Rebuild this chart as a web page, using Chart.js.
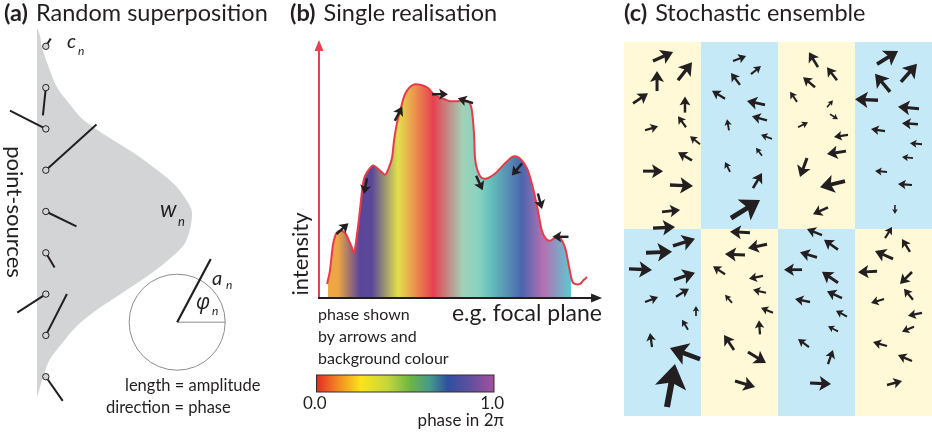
<!DOCTYPE html>
<html>
<head>
<meta charset="utf-8">
<script src="https://cdn.jsdelivr.net/npm/chart.js@4.4.1/dist/chart.umd.min.js"></script>
<style>
  html, body { margin: 0; padding: 0; background: #ffffff; }
  #fig { position: relative; width: 932px; height: 433px; overflow: hidden; background: #ffffff; }
  #fig canvas { position: absolute; top: 0; }
</style>
</head>
<body>
<div id="fig">
  <canvas id="panelA" width="290" height="433" style="left:0px"></canvas>
  <canvas id="panelB" width="325" height="433" style="left:290px"></canvas>
  <canvas id="panelC" width="317" height="433" style="left:615px"></canvas>
</div>
<script>
// ---------- (a) random superposition of point sources ----------
const sourcePos      = [1, 2, 3, 4, 5, 6, 7, 8, 9];
const sourceAmp      = [0.06, 0.18, 0.26, 0.44, 0.22, 0.11, 0.22, 0.30, 0.19];
const sourcePhaseDeg = [58, 264, 153, 42, 334, 301, 213, 63, 305];
const envelopePos    = [0.55, 0.75, 1.0, 1.55, 2.0, 2.35, 2.75, 3.15, 3.55, 3.95, 4.35, 4.75, 5.0, 5.4, 5.8, 6.2, 6.6, 7.0, 7.4, 7.8, 8.2, 8.6, 9.0, 9.5];
const envelopeWidth  = [0, 0.02, 0.03, 0.08, 0.13, 0.2, 0.29, 0.44, 0.61, 0.76, 0.89, 0.97, 1.0, 0.99, 0.95, 0.84, 0.7, 0.54, 0.38, 0.25, 0.16, 0.08, 0.04, 0];

// ---------- (b) one realisation along the focal plane ----------
const focalX = [0.029, 0.039, 0.050, 0.061, 0.075, 0.093, 0.107, 0.118, 0.125, 0.136, 0.146, 0.154, 0.161, 0.171, 0.193, 0.218, 0.236, 0.25, 0.261, 0.268, 0.279, 0.293, 0.307, 0.325, 0.343, 0.368, 0.389, 0.414, 0.439, 0.468, 0.511, 0.536, 0.546, 0.554, 0.557, 0.564, 0.579, 0.6, 0.629, 0.657, 0.675, 0.693, 0.718, 0.743, 0.764, 0.782, 0.796, 0.811, 0.825, 0.843, 0.861, 0.879, 0.889, 0.904, 0.914, 0.932, 0.946, 0.957];
const intensity = [0.055, 0.106, 0.208, 0.251, 0.263, 0.255, 0.224, 0.196, 0.176, 0.251, 0.341, 0.420, 0.467, 0.490, 0.518, 0.498, 0.482, 0.510, 0.549, 0.616, 0.686, 0.745, 0.796, 0.824, 0.835, 0.831, 0.820, 0.792, 0.780, 0.769, 0.769, 0.765, 0.733, 0.635, 0.549, 0.506, 0.471, 0.467, 0.486, 0.518, 0.537, 0.553, 0.545, 0.506, 0.431, 0.341, 0.263, 0.231, 0.224, 0.235, 0.235, 0.196, 0.145, 0.067, 0.055, 0.055, 0.071, 0.082];
const phaseSampleX   = [0.032, 0.068, 0.146, 0.189, 0.282, 0.332, 0.407, 0.514, 0.568, 0.611, 0.725, 0.8, 0.9];
const phaseSampleVal = [0.13, 0.12, 0.85, 0.84, 0.22, 0.10, 0.0, 0.45, 0.47, 0.55, 0.72, 0.92, 0.6];
const phasorBX     = [0.166, 0.284, 0.432, 0.523, 0.573, 0.707, 0.789, 0.084, 0.8625];
const phasorBY     = [0.437, 0.72, 0.796, 0.771, 0.449, 0.502, 0.378, 0.271, 0.239];
const phasorBPhase = [259, 62, 0, 162, 294, 230, 285, 42, 180];
const colourbarTicks = ['0.0', '1.0'];

// ---------- (c) stochastic ensemble: quiver field ----------
const fieldX = [
  3.77, 4.29, 7.01, 1.17, 7.92, 8.05, 2.73, 9.87, 8.83, 2.47, 5.97, 4.94,
  14.16, 16.49, 15.06, 13.12, 18.31, 18.57, 13.64, 19.22, 17.92, 13.77, 16.75, 13.9,
  25.19, 27.66, 24.81, 22.47, 26.36, 26.75, 22.6, 29.09, 28.83, 23.77, 28.7, 26.49,
  32.86, 34.55, 35.97, 32.99, 38.31, 38.18, 33.9, 38.7, 37.53, 34.16, 37.4, 35.19,
  3.77, 2.86, 6.36, 0.65, 6.49, 6.75, 2.73, 9.35, 8.31, 3.64, 9.87, 5.58,
  16.36, 18.57, 15.71, 13.12, 18.05, 18.44, 14.03, 19.35, 17.66, 14.29, 16.1, 14.42,
  25.71, 27.79, 25.06, 23.12, 27.79, 28.31, 24.16, 28.96, 27.79, 24.03, 26.49, 24.16,
  33.9, 34.94, 37.14, 32.86, 37.4, 37.53, 33.77, 38.7, 37.66, 34.16, 37.4, 34.16
];
const fieldY = [
  46.1, 42.2, 43.6, 40.6, 39.4, 37.5, 37.1, 35.3, 33.2, 31.8, 30.0, 26.5,
  46.1, 44.4, 43.0, 41.2, 40.4, 38.4, 37.1, 36.0, 33.8, 31.7, 29.6, 25.7,
  45.3, 43.6, 42.7, 40.8, 40.1, 39.2, 37.5, 36.5, 34.4, 33.5, 30.5, 27.1,
  45.7, 42.1, 43.4, 41.0, 39.9, 37.9, 37.0, 35.3, 33.5, 31.7, 30.0, 27.4,
  24.4, 21.2, 22.1, 19.1, 17.7, 15.5, 14.8, 13.0, 11.2, 8.96, 7.4, 1.17,
  23.8, 22.3, 20.9, 18.4, 18.2, 16.0, 14.7, 13.4, 10.6, 8.57, 8.31, 4.55,
  23.5, 21.6, 20.6, 19.0, 17.3, 15.3, 14.8, 12.9, 11.0, 8.96, 6.75, 4.29,
  23.1, 20.4, 21.3, 18.8, 18.7, 15.1, 15.2, 13.4, 11.6, 9.09, 7.14, 4.03
];
const fieldU = [
  2.6, 0, 1.82, 1.95, 0, -1.04, 1.69, -1.3, -1.82, 2.6, 2.99, 2.34,
  1.69, 1.3, -1.17, -1.69, -2.34, -1.95, -0.26, -1.43, -0.78, -0.65, 1.17, 3.77,
  -1.17, -1.3, -1.56, -0.91, 0.78, 1.04, 1.3, -1.82, -2.47, -0.91, -3.25, -1.95,
  2.73, -1.95, 2.08, -2.99, -2.73, -2.08, -1.82, -1.56, -1.43, -1.56, -1.82, 0,
  2.86, 3.38, 2.86, 2.99, 2.73, 1.69, 1.69, 0, -0.78, -0.26, -3.9, 1.04,
  -2.6, -2.47, -2.6, -1.56, -1.82, -1.69, -0.91, -1.56, -0.13, -1.3, 2.34, 2.6,
  -1.95, -1.82, -2.21, -2.34, -2.08, -1.95, -1.95, -1.43, -1.3, -1.43, 0.65, 2.73,
  0.91, -2.34, -1.04, -2.47, -1.56, -1.17, -1.69, -1.82, -1.56, -1.82, -1.82, 1.95
];
const fieldV = [
  1.17, 2.6, 2.34, 1.3, 2.08, 1.43, 0.52, 1.04, 1.04, 0, -0.13, 0.26,
  0.65, 1.04, 1.56, 1.04, 0.52, 0.52, 1.43, 0.52, 1.04, 1.3, 1.95, 2.34,
  1.95, 1.69, 1.3, 1.3, 0.91, -0.65, 0.65, -0.26, -0.39, -2.47, -0.78, -0.91,
  1.69, 2.34, 2.34, 0.13, 0.26, 0.13, 0.26, 0.13, 0.13, 0.13, 0.13, -1.17,
  0.13, 0.13, 0.91, -0.13, 0.91, 1.04, 0.65, 1.3, 1.3, 1.82, 1.43, 5.58,
  0.13, -0.52, 0.13, 1.04, -0.39, 0.39, 1.04, 0.65, 1.82, 1.95, -1.43, -0.78,
  0.78, 1.3, 0.65, 0, 1.43, 0.91, 0.39, 0.78, 0.65, 1.04, 1.82, -0.13,
  1.43, 1.04, 1.69, -0.13, -1.56, 1.43, -0.52, -0.39, -0.65, 0.52, 0.78, 0.52
];
const columnEdges = [0, 10, 20, 30, 40];
const rowEdges    = [48.57, 24.29, 0];
const cellTone    = [[0, 1, 0, 1], [1, 0, 1, 0]];

// ---------- styling ----------
const INK = '#231f20';
const AXIS_RED = '#e8424f';
const CURVE_RED = '#e83a4a';
const ENVELOPE_GREY = '#d3d4d6';
const CELL_COLOURS = ['#fff9d7', '#c6e9f8'];
const FONT = 'Lato, "Open Sans", "DejaVu Sans", sans-serif';
const TITLE_PX = 23.5;
const fillPalette = [
  [0.00, [232, 64, 78]], [0.10, [235, 160, 78]], [0.13, [238, 168, 66]], [0.22, [224, 224, 74]],
  [0.45, [160, 210, 184]], [0.47, [138, 210, 192]], [0.55, [100, 194, 188]], [0.60, [94, 200, 210]],
  [0.72, [74, 102, 174]], [0.85, [90, 70, 152]], [0.92, [180, 112, 176]], [1.00, [232, 64, 78]]
];
const colourbarStops = [
  [0, '#e42a24'], [0.1, '#ef7a22'], [0.25, '#fbe41a'], [0.4, '#c4d63c'], [0.53, '#6cb646'],
  [0.64, '#44998c'], [0.74, '#2f4f9f'], [0.86, '#5f4f9f'], [1, '#a2509c']
];
const phasorKey = { offset: 0.905, pos: 7.68, radius: 0.31, amp: 0.462, phaseDeg: 62 };

function phaseColour(p) {
  for (let i = 1; i < fillPalette.length; i++) {
    const [p1, c1] = fillPalette[i];
    const [p0, c0] = fillPalette[i - 1];
    if (p <= p1) {
      const t = (p - p0) / Math.max(1e-9, p1 - p0);
      const c = c0.map((v, k) => Math.round(v + (c1[k] - v) * t));
      return `rgb(${c[0]},${c[1]},${c[2]})`;
    }
  }
  const c = fillPalette[fillPalette.length - 1][1];
  return `rgb(${c[0]},${c[1]},${c[2]})`;
}

function text(ctx, str, x, y, font, opts = {}) {
  ctx.save();
  ctx.font = font;
  ctx.fillStyle = opts.color || INK;
  ctx.textAlign = opts.align || 'left';
  ctx.textBaseline = opts.baseline || 'alphabetic';
  if (opts.rotate) {
    ctx.translate(x, y);
    ctx.rotate(opts.rotate);
    ctx.fillText(str, 0, 0);
  } else {
    ctx.fillText(str, x, y);
  }
  ctx.restore();
}

function titled(ctx, tag, title, x, y) {
  const boldFont = `bold ${TITLE_PX}px ${FONT}`;
  ctx.save();
  ctx.font = boldFont;
  const w = ctx.measureText(tag).width;
  ctx.restore();
  text(ctx, tag, x, y, boldFont);
  text(ctx, title, x + w + 8, y, `${TITLE_PX}px ${FONT}`);
}

function arrow(ctx, x0, y0, x1, y1, colour) {
  const dx = x1 - x0, dy = y1 - y0;
  const L = Math.hypot(dx, dy);
  if (L < 0.5) return;
  const ux = dx / L, uy = dy / L, nx = -uy, ny = ux;
  const hw = Math.max(5, 0.75 * L - 1);
  const hl = Math.max(4, 0.55 * L);
  const sw = Math.max(1.4, 0.13 * L + 0.4);
  const bx = x1 - ux * hl, by = y1 - uy * hl;
  ctx.save();
  ctx.strokeStyle = colour;
  ctx.fillStyle = colour;
  ctx.lineWidth = sw;
  ctx.lineCap = 'butt';
  ctx.beginPath();
  ctx.moveTo(x0, y0);
  ctx.lineTo(bx + ux * hl * 0.3, by + uy * hl * 0.3);
  ctx.stroke();
  ctx.beginPath();
  ctx.moveTo(x1, y1);
  ctx.lineTo(bx + nx * hw / 2, by + ny * hw / 2);
  ctx.lineTo(bx + ux * hl * 0.22, by + uy * hl * 0.22);
  ctx.lineTo(bx - nx * hw / 2, by - ny * hw / 2);
  ctx.closePath();
  ctx.fill();
  ctx.restore();
}

const hidden = { display: false };
const quiet = { legend: { display: false }, tooltip: { enabled: false }, title: { display: false } };

// ---------- panel (a) ----------
const SOURCE_BASE = 0.057;
const panelAPlugin = {
  id: 'panelA',
  afterDatasetDraw(chart, args) {
    if (args.index !== 0) return;
    const { ctx, scales: { x, y } } = chart;
    const ppu = x.getPixelForValue(1) - x.getPixelForValue(0);
    ctx.save();
    ctx.strokeStyle = INK;
    ctx.lineWidth = 2;
    sourcePos.forEach((p, i) => {
      const x0 = x.getPixelForValue(SOURCE_BASE), y0 = y.getPixelForValue(p);
      const a = sourcePhaseDeg[i] * Math.PI / 180, L = sourceAmp[i] * ppu;
      ctx.beginPath();
      ctx.moveTo(x0, y0);
      ctx.lineTo(x0 + L * Math.cos(a), y0 - L * Math.sin(a));
      ctx.stroke();
    });
    ctx.restore();
  },
  afterDraw(chart) {
    const { ctx, scales: { x, y } } = chart;
    const ppu = x.getPixelForValue(1) - x.getPixelForValue(0);
    titled(ctx, '(a)', 'Random superposition', 4, 21);

    // phasor key: circle, reference direction and one phasor
    const cx = x.getPixelForValue(phasorKey.offset), cy = y.getPixelForValue(phasorKey.pos);
    const r = phasorKey.radius * ppu;
    ctx.save();
    ctx.strokeStyle = '#8c8c8c';
    ctx.lineWidth = 1;
    ctx.beginPath(); ctx.arc(cx, cy, r, 0, Math.PI * 2); ctx.stroke();
    ctx.beginPath(); ctx.moveTo(cx, cy); ctx.lineTo(cx + r, cy); ctx.stroke();
    const a = phasorKey.phaseDeg * Math.PI / 180, L = phasorKey.amp * ppu;
    ctx.strokeStyle = INK; ctx.lineWidth = 2.2;
    ctx.beginPath(); ctx.moveTo(cx, cy); ctx.lineTo(cx + L * Math.cos(a), cy - L * Math.sin(a)); ctx.stroke();
    ctx.restore();

    text(ctx, 'a', 212, 285, 'italic 20px ' + FONT);
    text(ctx, 'n', 226, 289, 'italic 12px ' + FONT);
    text(ctx, 'φ', 196, 309, 'italic 21px "Open Sans", ' + FONT);
    text(ctx, 'n', 212, 315, 'italic 12px ' + FONT);
    text(ctx, 'c', 67, 48, 'italic 20px ' + FONT);
    text(ctx, 'n', 78, 55, 'italic 12px ' + FONT);
    text(ctx, 'w', 160, 217, 'italic 23px ' + FONT);
    text(ctx, 'n', 178, 226, 'italic 13px ' + FONT);
    text(ctx, 'point-sources', 14, 212, '22px ' + FONT, { rotate: Math.PI / 2, align: 'center', baseline: 'middle' });
    text(ctx, 'length = amplitude', 125, 391, '16.5px ' + FONT);
    text(ctx, 'direction = phase', 106, 413, '16.5px ' + FONT);
  }
};

new Chart(document.getElementById('panelA'), {
  type: 'scatter',
  data: {
    datasets: [
      {
        label: 'envelope',
        data: envelopePos.map((p, i) => ({ x: envelopeWidth[i], y: p })),
        showLine: true, fill: 'shape', tension: 0.3,
        backgroundColor: ENVELOPE_GREY, borderWidth: 0, borderColor: 'rgba(0,0,0,0)',
        pointRadius: 0, order: 2, clip: false
      },
      {
        label: 'sources',
        data: sourcePos.map(p => ({ x: SOURCE_BASE, y: p })),
        showLine: false, pointRadius: 3.2, pointBorderWidth: 1,
        pointBorderColor: INK, pointBackgroundColor: ENVELOPE_GREY,
        order: 1, clip: false
      }
    ]
  },
  options: {
    responsive: false, animation: false, devicePixelRatio: 1,
    layout: { padding: { left: 37, right: 0, top: 2, bottom: 15 } },
    scales: {
      x: { type: 'linear', min: 0, max: 1.6013, ...hidden },
      y: { type: 'linear', min: 0, max: 10, reverse: true, ...hidden }
    },
    plugins: quiet
  },
  plugins: [panelAPlugin]
});

// ---------- panel (b) ----------
const AXIS_END_X = 1.011, AXIS_END_Y = 1.008, PHASOR_LEN = 16;
function phaseFill(context) {
  const chart = context.chart;
  const { ctx, chartArea, scales } = chart;
  if (!chartArea || !scales.x) return 'rgba(0,0,0,0)';
  const first = scales.x.getPixelForValue(phaseSampleX[0]);
  const last = scales.x.getPixelForValue(phaseSampleX[phaseSampleX.length - 1]);
  const g0 = first - 0.5, g1 = last + 0.5, span = g1 - g0;
  const g = ctx.createLinearGradient(g0, 0, g1, 0);
  g.addColorStop(0, 'rgba(255,255,255,0)');
  phaseSampleX.forEach((v, i) => {
    g.addColorStop((scales.x.getPixelForValue(v) - g0) / span, phaseColour(phaseSampleVal[i]));
  });
  g.addColorStop(1, 'rgba(255,255,255,0)');
  return g;
}

const panelBPlugin = {
  id: 'panelB',
  afterDatasetsDraw(chart) {
    const { ctx, scales: { x, y } } = chart;
    const x0 = x.getPixelForValue(0), y0 = y.getPixelForValue(0);
    const yTop = y.getPixelForValue(AXIS_END_Y), xEnd = x.getPixelForValue(AXIS_END_X);
    ctx.save();
    ctx.lineWidth = 2;
    ctx.strokeStyle = AXIS_RED; ctx.fillStyle = AXIS_RED;
    ctx.beginPath(); ctx.moveTo(x0, y0 + 1); ctx.lineTo(x0, yTop + 8); ctx.stroke();
    ctx.beginPath(); ctx.moveTo(x0, yTop); ctx.lineTo(x0 - 4.5, yTop + 11); ctx.lineTo(x0 + 4.5, yTop + 11); ctx.closePath(); ctx.fill();
    ctx.strokeStyle = INK; ctx.fillStyle = INK;
    ctx.beginPath(); ctx.moveTo(x0 - 1, y0); ctx.lineTo(xEnd - 8, y0); ctx.stroke();
    ctx.beginPath(); ctx.moveTo(xEnd, y0); ctx.lineTo(xEnd - 11, y0 - 4.5); ctx.lineTo(xEnd - 11, y0 + 4.5); ctx.closePath(); ctx.fill();
    ctx.restore();

    phasorBX.forEach((v, i) => {
      const px = x.getPixelForValue(v), py = y.getPixelForValue(phasorBY[i]);
      const a = phasorBPhase[i] * Math.PI / 180;
      const hx = Math.cos(a) * PHASOR_LEN / 2, hy = -Math.sin(a) * PHASOR_LEN / 2;
      arrow(ctx, px - hx, py - hy, px + hx, py + hy, INK);
    });
  },
  afterDraw(chart) {
    const { ctx } = chart;
    titled(ctx, '(b)', 'Single realisation', 0, 21);
    text(ctx, 'intensity', 11, 254, '22px ' + FONT, { rotate: -Math.PI / 2, align: 'center', baseline: 'middle' });
    text(ctx, 'e.g. focal plane', 312, 321, '23px ' + FONT, { align: 'right' });
    text(ctx, 'phase shown', 28, 320, '16px ' + FONT);
    text(ctx, 'by arrows and', 28, 342, '16px ' + FONT);
    text(ctx, 'background colour', 28, 364, '16px ' + FONT);

    // phase colour bar
    const bx = 26.5, by = 375, bw = 177.5, bh = 17;
    const g = ctx.createLinearGradient(bx, 0, bx + bw, 0);
    colourbarStops.forEach(([p, c]) => g.addColorStop(p, c));
    ctx.save();
    ctx.fillStyle = g;
    ctx.fillRect(bx, by, bw, bh);
    ctx.strokeStyle = '#3b2b2d'; ctx.lineWidth = 1;
    ctx.strokeRect(bx, by, bw, bh);
    ctx.restore();
    text(ctx, colourbarTicks[0], 13, 409, '17px ' + FONT);
    text(ctx, colourbarTicks[1], 214, 409, '17px ' + FONT, { align: 'right' });
    text(ctx, 'phase in 2π', 214, 426, '17px ' + FONT, { align: 'right' });
  }
};

new Chart(document.getElementById('panelB'), {
  type: 'scatter',
  data: {
    datasets: [{
      label: 'intensity',
      data: focalX.map((v, i) => ({ x: v, y: intensity[i] })),
      showLine: true, fill: 'origin', tension: 0.3,
      borderColor: CURVE_RED, borderWidth: 2, pointRadius: 0,
      backgroundColor: phaseFill, clip: false
    }]
  },
  options: {
    responsive: false, animation: false, devicePixelRatio: 1,
    layout: { padding: { left: 29, right: 16, top: 42, bottom: 135 } },
    scales: {
      x: { type: 'linear', min: 0, max: 1, ...hidden },
      y: { type: 'linear', min: 0, max: 1, ...hidden }
    },
    plugins: quiet
  },
  plugins: [panelBPlugin]
});

// ---------- panel (c) ----------
const panelCPlugin = {
  id: 'panelC',
  beforeDatasetsDraw(chart) {
    const { ctx, scales: { x, y } } = chart;
    cellTone.forEach((row, r) => row.forEach((tone, c) => {
      const l = Math.round(x.getPixelForValue(columnEdges[c]));
      const rr = Math.round(x.getPixelForValue(columnEdges[c + 1]));
      const t = Math.round(y.getPixelForValue(rowEdges[r]));
      const b = Math.round(y.getPixelForValue(rowEdges[r + 1]));
      ctx.fillStyle = CELL_COLOURS[tone];
      ctx.fillRect(l, t, rr - l, b - t);
    }));
  },
  afterDatasetsDraw(chart) {
    const { ctx, scales: { x } } = chart;
    const ppu = x.getPixelForValue(1) - x.getPixelForValue(0);
    const meta = chart.getDatasetMeta(0);
    meta.data.forEach((pt, i) => {
      arrow(ctx, pt.x, pt.y, pt.x + fieldU[i] * ppu, pt.y - fieldV[i] * ppu, INK);
    });
  },
  afterDraw(chart) {
    titled(chart.ctx, '(c)', 'Stochastic ensemble', 9, 21);
  }
};

new Chart(document.getElementById('panelC'), {
  type: 'scatter',
  data: {
    datasets: [{
      label: 'field',
      data: fieldX.map((v, i) => ({ x: v, y: fieldY[i] })),
      pointRadius: 0, showLine: false
    }]
  },
  options: {
    responsive: false, animation: false, devicePixelRatio: 1,
    layout: { padding: { left: 9, right: 0, top: 42, bottom: 17 } },
    scales: {
      x: { type: 'linear', min: 0, max: 40, ...hidden },
      y: { type: 'linear', min: 0, max: 48.57, ...hidden }
    },
    plugins: quiet
  },
  plugins: [panelCPlugin]
});
</script>
</body>
</html>
